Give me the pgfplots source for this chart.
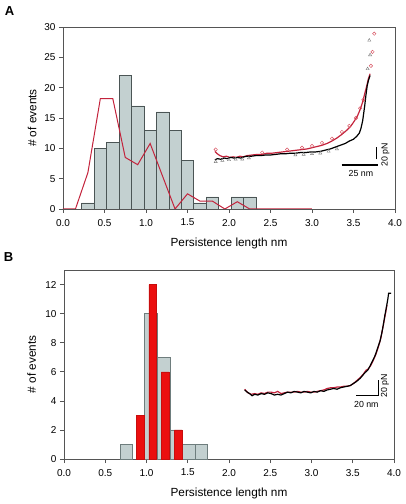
\documentclass[border=0pt]{standalone}
\usepackage{fontspec}
\setmainfont{Liberation Sans}
\usepackage{pgfplots}
\pgfplotsset{compat=1.18}
\definecolor{barfill}{RGB}{195,208,208}
\definecolor{baredge}{RGB}{75,85,85}
\definecolor{baredgeB}{RGB}{110,125,125}
\definecolor{linered}{RGB}{195,35,60}
\definecolor{barred}{RGB}{235,15,15}
\definecolor{framegray}{RGB}{85,85,85}
\definecolor{mkred}{RGB}{215,80,95}
\pgfplotsset{every axis/.append style={
  scale only axis, xmin=0, xmax=4,
  xtick={0,0.5,1,1.5,2,2.5,3,3.5,4},
  tick align=outside, xtick pos=bottom, ytick pos=left,
  major tick length=4pt,
  axis line style={framegray, line width=0.6pt},
  tick style={framegray, line width=0.6pt},
  tick label style={font=\fontsize{10}{12}\selectfont},
  label style={font=\fontsize{11.8}{14}\selectfont},
  xticklabel style={yshift=-2.5pt, /pgf/number format/.cd, fixed, fixed zerofill, precision=1},
  /pgf/number format/assume math mode=true,
  xlabel={Persistence length nm}, ylabel={\# of events},
}}
\begin{document}
\begin{tikzpicture}
\useasboundingbox (0pt,0pt) rectangle (406pt,504pt);
% ---------------- Panel A ----------------
\begin{axis}[at={(63pt,295pt)}, anchor=south west, width=332pt, height=182pt,
  ymin=0, ymax=30, ytick={0,5,10,15,20,25,30},
  xlabel style={at={(axis description cs:0.5,-0.187)}, anchor=center},
  ylabel style={at={(axis description cs:-0.093,0.5)}, anchor=center}]
\addplot[ybar, bar width=0.15, bar shift=0, fill=barfill, draw=baredge, line width=0.6pt]
  coordinates {(0.3,1) (0.45,10) (0.6,11) (0.75,22) (0.9,17) (1.05,13) (1.2,16)
  (1.35,13) (1.5,8) (1.65,1) (1.8,2) (2.1,2) (2.25,2)};
\addplot[linered, line width=1pt, mark=none]
  coordinates {(0,0) (0.15,0) (0.3,6) (0.45,18.2) (0.6,18.2) (0.75,8.5) (0.9,7.3)
  (1.05,10.8) (1.35,0) (1.5,2.5) (1.65,1.3) (1.8,1.3) (1.95,0) (2.1,1.2) (2.25,0)
  (2.4,0) (2.55,0) (2.7,0) (2.85,0) (3.0,0)};
% inset traces
\addplot[mkred, only marks, mark=o, mark size=1.7pt, line width=0.45pt]
  coordinates {(1.84,9.8) (2.40,9.3) (2.70,9.8) (2.88,10.1) (3.00,10.4) (3.12,10.9)
  (3.24,11.6) (3.36,12.7) (3.45,13.7) (3.53,15.0) (3.58,16.6) (3.62,18.0)
  (3.71,23.6) (3.73,25.9) (3.75,28.9)};
\addplot[gray, only marks, mark=triangle, mark size=1.8pt, line width=0.45pt]
  coordinates {(1.84,7.8) (1.92,8.0) (2.00,8.1) (2.08,8.2) (2.16,8.2) (2.24,8.4)
  (2.80,8.9) (2.90,9.0) (3.00,9.1) (3.10,9.2) (3.20,9.5) (3.30,9.9)
  (3.67,23.1) (3.70,25.4) (3.69,27.8)};
\addplot[linered, line width=1.2pt, mark=none]
  coordinates {(1.83,9.5) (1.86,9.1) (1.89,8.8) (1.93,8.6) (1.97,8.7) (2.01,8.5)
  (2.05,8.6) (2.09,8.5) (2.13,8.7) (2.17,8.6) (2.22,8.8) (2.28,8.9) (2.34,9.0)
  (2.40,9.0) (2.46,9.2) (2.52,9.2) (2.58,9.3) (2.64,9.4) (2.70,9.5) (2.76,9.6)
  (2.82,9.7) (2.88,9.8) (2.94,9.9) (3.00,10.1) (3.06,10.3) (3.12,10.5) (3.18,10.8)
  (3.24,11.2) (3.30,11.7) (3.36,12.3) (3.42,13.0) (3.47,13.7) (3.51,14.5)
  (3.55,15.4) (3.58,16.4) (3.61,17.6) (3.635,19.0) (3.66,20.3) (3.68,21.5) (3.70,22.3)};
\addplot[black, line width=1.2pt, mark=none]
  coordinates {(1.83,8.1) (1.86,8.3) (1.90,8.2) (1.94,8.4) (1.98,8.3) (2.02,8.5)
  (2.06,8.4) (2.10,8.5) (2.14,8.4) (2.18,8.6) (2.22,8.7) (2.27,8.7) (2.32,8.8)
  (2.38,8.8) (2.44,8.9) (2.50,8.9) (2.56,9.0) (2.62,9.1) (2.68,9.1) (2.74,9.2)
  (2.80,9.2) (2.86,9.3) (2.92,9.3) (2.98,9.4) (3.04,9.4) (3.10,9.5) (3.16,9.7)
  (3.22,9.9) (3.28,10.2) (3.34,10.5) (3.40,10.8) (3.45,11.2) (3.50,11.5)
  (3.54,12.0) (3.57,12.5) (3.59,13.3) (3.61,14.5) (3.62,15.5) (3.635,17.0)
  (3.65,18.8) (3.665,20.3) (3.68,21.2) (3.70,22.0)};
% scale bars
\addplot[black, line width=1.3pt, mark=none] coordinates {(3.78,8.2) (3.78,10.3)};
\addplot[black, line width=1.3pt, mark=none] coordinates {(3.358,7.25) (3.79,7.25)};
\node[font=\fontsize{8.8}{10}\selectfont] at (axis cs:3.59,5.8) {25 nm};
\node[font=\fontsize{8.8}{10}\selectfont, rotate=90] at (axis cs:3.885,8.9) {20 pN};
\end{axis}
% ---------------- Panel B ----------------
\begin{axis}[at={(64pt,45pt)}, anchor=south west, width=330pt, height=189pt,
  ymin=0, ymax=13, ytick={0,2,4,6,8,10,12},
  xlabel style={at={(axis description cs:0.5,-0.18)}, anchor=center},
  ylabel style={at={(axis description cs:-0.098,0.5)}, anchor=center}]
\addplot[ybar, bar width=0.152, bar shift=0, fill=barfill, draw=baredgeB, line width=0.6pt]
  coordinates {(0.757,1) (1.055,10) (1.207,7) (1.359,2) (1.511,1) (1.663,1)};
\addplot[ybar, bar width=0.09, bar shift=0, fill=barred, draw=barred!85!black, line width=0.3pt]
  coordinates {(0.925,3) (1.075,12) (1.225,6) (1.383,2)};
\addplot[linered, line width=1.2pt, mark=none]
  coordinates {(2.19,4.8) (2.23,4.55) (2.27,4.45) (2.31,4.5) (2.35,4.45) (2.39,4.55)
  (2.43,4.5) (2.47,4.6) (2.51,4.6) (2.55,4.55) (2.59,4.65) (2.63,4.5) (2.67,4.55)
  (2.71,4.6) (2.75,4.6) (2.79,4.6) (2.83,4.65) (2.87,4.6) (2.91,4.6) (2.95,4.65)
  (2.99,4.6) (3.03,4.6) (3.07,4.65) (3.11,4.7) (3.15,4.75) (3.19,4.85) (3.23,4.9)
  (3.27,4.9) (3.31,4.95) (3.35,4.95) (3.39,5.0) (3.43,5.0) (3.47,5.05) (3.51,5.2)
  (3.55,5.4) (3.59,5.6) (3.63,5.85) (3.66,6.1) (3.69,6.2) (3.72,6.45) (3.75,6.8)
  (3.78,7.2) (3.81,7.7) (3.84,8.3) (3.86,8.9) (3.88,9.5) (3.90,10.1) (3.915,10.6)};
\addplot[black, line width=1.2pt, mark=none]
  coordinates {(2.19,4.75) (2.22,4.6) (2.25,4.5) (2.28,4.35) (2.31,4.45) (2.35,4.4)
  (2.39,4.5) (2.43,4.45) (2.47,4.55) (2.51,4.5) (2.55,4.4) (2.59,4.45) (2.63,4.4)
  (2.67,4.5) (2.71,4.6) (2.75,4.55) (2.79,4.65) (2.83,4.6) (2.87,4.55) (2.91,4.65)
  (2.95,4.6) (2.99,4.55) (3.03,4.65) (3.07,4.6) (3.11,4.7) (3.15,4.65) (3.19,4.75)
  (3.23,4.8) (3.27,4.85) (3.31,4.8) (3.35,4.9) (3.39,4.95) (3.43,5.0) (3.47,5.05)
  (3.51,5.2) (3.55,5.35) (3.59,5.55) (3.62,5.75) (3.65,5.95) (3.68,6.1) (3.71,6.4)
  (3.74,6.75) (3.77,7.1) (3.80,7.6) (3.83,8.1) (3.85,8.6) (3.87,9.2) (3.89,9.9)
  (3.91,10.5) (3.925,11.0) (3.935,11.4) (3.965,11.4)};
% scale bars
\addplot[black, line width=1.3pt, mark=none] coordinates {(3.54,4.35) (3.81,4.35) (3.81,5.45)};
\node[font=\fontsize{8.8}{10}\selectfont] at (axis cs:3.665,3.78) {20 nm};
\node[font=\fontsize{8.8}{10}\selectfont, rotate=90] at (axis cs:3.89,5.05) {20 pN};
\end{axis}
\node[font=\fontsize{13}{15}\selectfont\bfseries] at (9.5pt,493pt) {A};
\node[font=\fontsize{13}{15}\selectfont\bfseries] at (8.5pt,246.5pt) {B};
\end{tikzpicture}
\end{document}
